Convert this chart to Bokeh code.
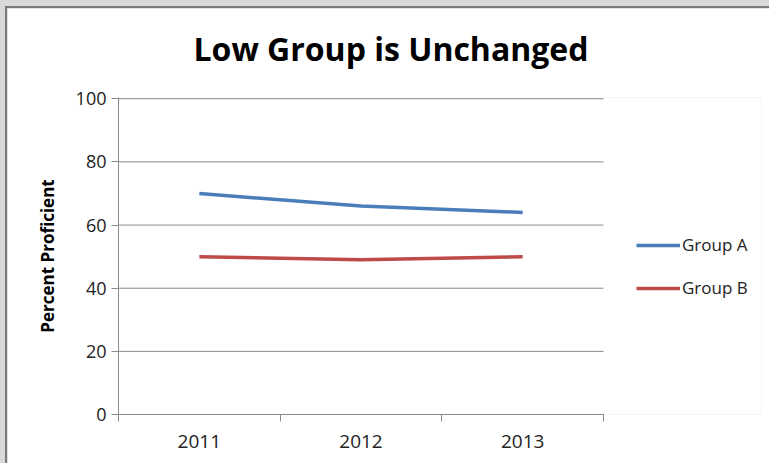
from bokeh.plotting import figure
from bokeh.models import Range1d, FixedTicker, Legend, LegendItem, Title
from bokeh.layouts import column
from bokeh.embed import file_html
from bokeh.resources import INLINE

years = ["2011", "2012", "2013"]
group_a = [70, 66, 64]
group_b = [50, 49, 50]
series_names = ["Group A", "Group B"]
y_ticks = [0, 20, 40, 60, 80, 100]
chart_title = "Low Group is Unchanged"

FONT = "Open Sans"
GRID = "#8a8a8a"

W, H = 764, 457
LEFT, RIGHT, TOP, BOTTOM = 111, 10, 89, 51
AXIS_PX = 485  # pixel width of the category axis
frame_w = W - LEFT - RIGHT
n = len(years)
xs = [i + 0.5 for i in range(n)]

p = figure(width=W, height=H, output_backend="svg", toolbar_location=None,
           x_range=Range1d(0, n * frame_w / AXIS_PX), y_range=Range1d(0, 100.4),
           min_border_left=LEFT, min_border_right=RIGHT, min_border_top=TOP, min_border_bottom=BOTTOM,
           border_fill_color="white", background_fill_color="white")
p.outline_line_color = None
p.title = None

# spacer between the frame and the title, then the title itself
p.add_layout(Title(text=" ", text_font_size="1px", standoff=25), "above")
p.add_layout(Title(text=chart_title, text_font=FONT, text_font_size="32px",
                   text_font_style="bold", text_color="black", align="left", offset=75,
                   standoff=0), "above")

# y axis
p.yaxis.ticker = FixedTicker(ticks=y_ticks)
p.yaxis.axis_line_color = GRID
p.yaxis.major_tick_line_color = GRID
p.yaxis.major_tick_out = 7
p.yaxis.major_tick_in = 0
p.yaxis.minor_tick_line_color = None
p.yaxis.major_label_text_font = FONT
p.yaxis.major_label_text_font_size = "18px"
p.yaxis.major_label_text_color = "#222222"
p.yaxis.major_label_standoff = 5
p.yaxis.axis_label = "Percent Proficient"
p.yaxis.axis_label_text_font = FONT
p.yaxis.axis_label_text_font_size = "17px"
p.yaxis.axis_label_text_font_style = "bold"
p.yaxis.axis_label_text_color = "black"
p.yaxis.axis_label_standoff = 14

# x axis: labels at category centres, tick marks at category edges
p.xaxis.bounds = (0, n)
p.xaxis.ticker = FixedTicker(ticks=xs, minor_ticks=list(range(n + 1)))
p.xaxis.major_label_overrides = {x: y for x, y in zip(xs, years)}
p.xaxis.major_tick_line_color = None
p.xaxis.minor_tick_line_color = GRID
p.xaxis.minor_tick_out = 7
p.xaxis.minor_tick_in = 0
p.xaxis.axis_line_color = GRID
p.xaxis.major_label_text_font = FONT
p.xaxis.major_label_text_font_size = "19px"
p.xaxis.major_label_text_color = "#222222"
p.xaxis.major_label_standoff = 13

p.xgrid.grid_line_color = None
p.ygrid.grid_line_color = None
# horizontal gridlines limited to the category span
p.segment(x0=[0] * len(y_ticks), x1=[n] * len(y_ticks), y0=y_ticks, y1=y_ticks,
          line_color=GRID, line_width=1)

ra = p.line(xs, group_a, line_color="#4a7ebb", line_width=3.5)
rb = p.line(xs, group_b, line_color="#be4b48", line_width=3.5)

legend = Legend(items=[LegendItem(label=series_names[0], renderers=[ra]),
                       LegendItem(label=series_names[1], renderers=[rb])],
                location=(518, 115), orientation="vertical",
                glyph_width=44, glyph_height=20, label_standoff=2, spacing=20,
                padding=0, margin=0, border_line_color=None, background_fill_alpha=0,
                label_text_font=FONT, label_text_font_size="17px", label_text_color="#222222")
p.add_layout(legend)

layout = column(p, styles={"background-color": "#d9d9d9", "padding-left": "5px", "padding-top": "6px"})
p.styles = {"border-left": "2px solid #7a7a7a", "border-top": "2px solid #7a7a7a"}

open("out.html", "w").write(file_html(layout, INLINE))
